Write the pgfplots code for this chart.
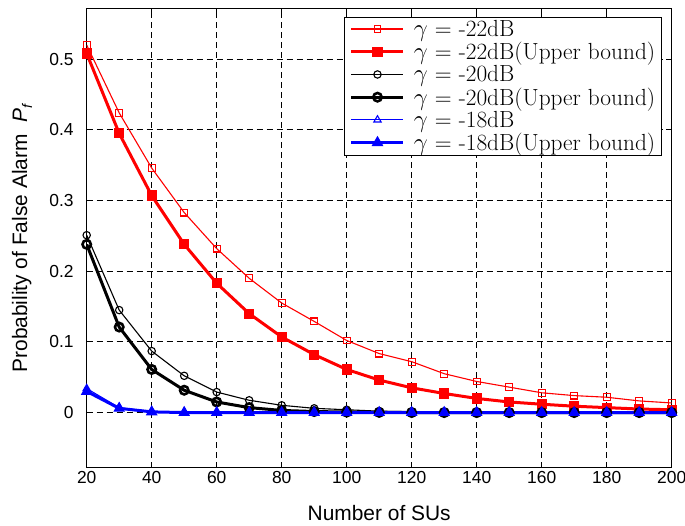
\documentclass[border=0pt]{standalone}
\usepackage{fontspec}
\usepackage{pgfplots}
\pgfplotsset{compat=1.18}
\newfontfamily\helv{Liberation Sans}

\pgfplotstableread{
n    a22    b22    a20    b20     a18    b18
20   0.520  0.508  0.251  0.238   0.034  0.030
30   0.424  0.395  0.145  0.121   0.007  0.006
40   0.346  0.307  0.087  0.061   0.001  0.001
50   0.283  0.238  0.052  0.0316  0.000  0.000
60   0.232  0.183  0.029  0.015   0.000  0.000
70   0.190  0.140  0.0174 0.007   0.000  0.000
80   0.155  0.107  0.0103 0.003   0.000  0.000
90   0.129  0.082  0.006  0.0015  0.000  0.000
100  0.102  0.061  0.004  0.0007  0.000  0.000
110  0.0835 0.046  0.002  0.0003  0.000  0.000
120  0.072  0.035  0.0012 0.0001  0.000  0.000
130  0.055  0.027  0.0007 0.000   0.000  0.000
140  0.044  0.020  0.0004 0.000   0.000  0.000
150  0.036  0.015  0.0002 0.000   0.000  0.000
160  0.028  0.0118 0.0001 0.000   0.000  0.000
170  0.024  0.009  0.000  0.000   0.000  0.000
180  0.0217 0.007  0.000  0.000   0.000  0.000
190  0.0165 0.005  0.000  0.000   0.000  0.000
200  0.0136 0.004  0.000  0.000   0.000  0.000
}\pf

\begin{document}
\begin{tikzpicture}
\path[use as bounding box] (-86.7bp,-58.3bp) rectangle (598.3bp,467.7bp);
\begin{axis}[
    at={(0,0)}, anchor=south west,
    scale only axis,
    width=585bp, height=459.4bp,
    xmin=20, xmax=200,
    ymin=-0.078, ymax=0.572,
    xtick={20,40,...,200},
    ytick={0,0.1,...,0.5},
    yticklabels={0,0.1,0.2,0.3,0.4,0.5},
    tick align=inside,
    major tick length=6bp,
    tick style={black, line width=0.8bp},
    axis line style={line width=1bp},
    grid=major,
    major grid style={black, dashed, line width=0.8bp, dash pattern=on 6bp off 4bp},
    /pgf/number format/assume math mode=true,
    ticklabel style={font=\helv\fontsize{17.5}{20}\selectfont},
    yticklabel style={xshift=-9.5bp},
    xlabel={\helv\fontsize{21}{24}\selectfont Number of SUs},
    ylabel={\helv\fontsize{21}{24}\selectfont Probability of False Alarm\ \ \textit{P}\raisebox{-0.45ex}{\fontsize{14}{14}\selectfont\textit{f}}},
    xlabel style={yshift=-15bp},
    ylabel style={yshift=10.5bp},
    legend cell align=left,
    legend style={at={(1,1)}, anchor=north east, xshift=-10bp, yshift=-8.4bp,
        font=\fontsize{23.4}{25}\selectfont, draw=black, line width=1bp,
        inner xsep=5bp, inner ysep=2bp, row sep=2.4bp,
        nodes={inner xsep=1bp, inner ysep=1bp},
        /tikz/every odd column/.append style={column sep=8bp}},
    legend image code/.code={
        \draw[mark repeat=2, mark phase=2] plot coordinates {(0bp,0bp) (26bp,0bp) (52bp,0bp)};
    },
]
\addplot[red, line width=1.1bp, mark=square, mark size=3.4bp, mark options={line width=1.1bp, fill=none}]
    table[x=n, y=a22] {\pf};
\addlegendentry{$\gamma$ = -22dB}
\addplot[red, line width=3bp, mark=square*, mark size=4.6bp, mark options={line width=1bp}]
    table[x=n, y=b22] {\pf};
\addlegendentry{$\gamma$ = -22dB(Upper bound)}
\addplot[black, line width=1.1bp, mark=o, mark size=3.7bp, mark options={line width=1.1bp, fill=none}]
    table[x=n, y=a20] {\pf};
\addlegendentry{$\gamma$ = -20dB}
\addplot[black, line width=3bp, mark=o, mark size=4.2bp, mark options={line width=2.6bp, fill=none}]
    table[x=n, y=b20] {\pf};
\addlegendentry{$\gamma$ = -20dB(Upper bound)}
\addplot[blue, line width=1.1bp, mark=triangle, mark size=4.2bp, mark options={line width=1.1bp, fill=none}]
    table[x=n, y=a18] {\pf};
\addlegendentry{$\gamma$ = -18dB}
\addplot[blue, line width=3bp, mark=triangle*, mark size=5.8bp, mark options={line width=1bp}]
    table[x=n, y=b18] {\pf};
\addlegendentry{$\gamma$ = -18dB(Upper bound)}
\end{axis}
\end{tikzpicture}
\end{document}
